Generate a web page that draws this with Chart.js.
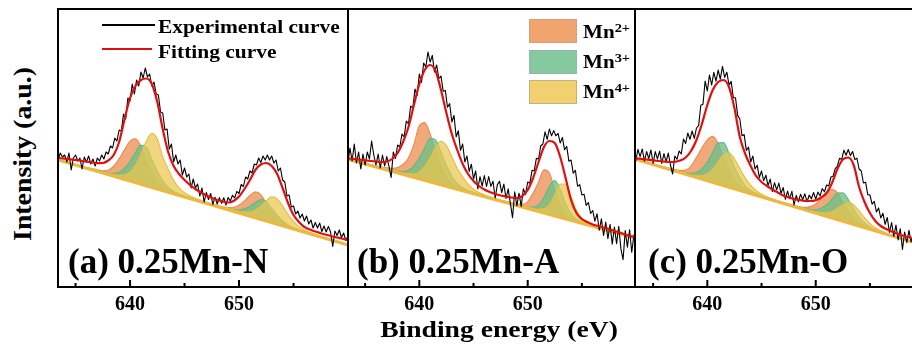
<!DOCTYPE html>
<html><head><meta charset="utf-8">
<script src="https://cdn.jsdelivr.net/npm/chart.js@4.4.1/dist/chart.umd.min.js"></script>
<style>
html,body{margin:0;padding:0;background:#fff;overflow:hidden;width:912px;height:352px;}
#wrap{position:relative;width:912px;height:352px;overflow:hidden;}
canvas{position:absolute;top:0;}
.t{position:absolute;font-family:"Liberation Serif","Times New Roman",serif;font-weight:bold;color:#000;white-space:nowrap;line-height:1;}
.sw{position:absolute;}
.box{position:absolute;width:46px;height:22px;}
</style></head><body><div id="wrap">
<canvas id="cA" width="294" height="352" style="left:56px"></canvas>
<canvas id="cB" width="291" height="352" style="left:346px"></canvas>
<canvas id="cC" width="279" height="352" style="left:633px"></canvas>

<div class="t" style="left:23px;top:154px;font-size:26px;transform:translate(-50%,-50%) rotate(-90deg) scaleX(1.07);">Intensity (a.u.)</div>
<div class="t" style="left:499px;top:317px;font-size:24px;transform:translateX(-50%) scaleX(1.15);">Binding energy (eV)</div>

<div class="sw" style="left:102px;top:24px;width:53px;height:2px;background:#000;"></div>
<div class="t" style="left:158px;top:17px;font-size:19.5px;transform-origin:0 50%;transform:scaleX(1.1);">Experimental curve</div>
<div class="sw" style="left:102px;top:48px;width:50px;height:2.4px;background:#e01010;"></div>
<div class="t" style="left:158px;top:42px;font-size:19.5px;transform-origin:0 50%;transform:scaleX(1.1);">Fitting curve</div>

<div class="box" style="left:529px;top:19px;background:#F2A46E;border:1px solid #d0a080;"></div>
<div class="box" style="left:529px;top:50px;background:#86C8A0;border:1px solid #98b8a6;"></div>
<div class="box" style="left:529px;top:80px;background:#F1D070;border:1px solid #c8b07a;"></div>
<div class="t" style="left:583px;top:18.6px;font-size:19px;line-height:1.4;transform-origin:0 50%;transform:scaleX(1.11);">Mn<span style="font-size:13px;vertical-align:6px;">2+</span></div>
<div class="t" style="left:583px;top:48.6px;font-size:19px;line-height:1.4;transform-origin:0 50%;transform:scaleX(1.11);">Mn<span style="font-size:13px;vertical-align:6px;">3+</span></div>
<div class="t" style="left:583px;top:78.6px;font-size:19px;line-height:1.4;transform-origin:0 50%;transform:scaleX(1.11);">Mn<span style="font-size:13px;vertical-align:6px;">4+</span></div>

<div class="t" style="left:68px;top:244px;font-size:35px;">(a) 0.25Mn-N</div>
<div class="t" style="left:357px;top:244px;font-size:35px;">(b) 0.25Mn-A</div>
<div class="t" style="left:648px;top:244px;font-size:35px;">(c) 0.25Mn-O</div>
</div>
<script>
// ---- axis ticks ----
const majorTicks = [640, 650];
const minorTicks = [635, 645, 655];

// ---- energy grids (eV) ----
const fitEnergy = [633,633.5,634,634.5,635,635.5,636,636.5,637,637.5,638,638.5,639,639.5,640,640.5,641,641.5,642,642.5,643,643.5,644,644.5,645,645.5,646,646.5,647,647.5,648,648.5,649,649.5,650,650.5,651,651.5,652,652.5,653,653.5,654,654.5,655,655.5,656,656.5,657,657.5,658,658.5,659,659.5,660];
const expStart = 633.2;
const expStep = 0.2;
const baselineEnergy = [633, 660];

// ---- panel (a) 0.25Mn-N ----
const baseA = [128.3, 42.0];
const fitA = [129.5,129,128.3,127.6,127,126.2,125.4,124.6,123.8,124,126.5,132,145,168,189,201,207,208.5,203,185,158,135,121,113,107,102,98,94.5,91.5,89,87,85.5,84.5,86,90.5,98,107,117,122.5,124,121,113,99,84,72,65,60,57.5,55.5,53.8,52.2,50.8,49.5,48.2,47];
const mn2A = [.4,.5,.5,.6,.7,.8,.9,1.2,1.6,2.3,4.4,10,19,30,40,44,37.5,25.5,14.8,7.6,3.8,2.2,1.5,1.1,.9,.8,.8,.8,.8,1,1.2,1.5,2.3,4.2,8,13.8,20.7,25.9,24.8,17.8,11,6.2,3.1,1.7,1.2,.9,.8,.7,.6,.5,.5,.4,.4,.4,.4];
const mn3A = [.3,.3,.4,.4,.5,.6,.7,.8,.9,1.2,1.7,2.8,5.6,11.2,19.6,30.2,39.2,38.4,28,17.6,9.8,4.8,2.5,1.6,1.1,.9,.8,.7,.7,.7,.8,1,1.3,1.8,3.1,5.9,10,15.3,19.8,19.4,14.2,9,5,2.5,1.3,.9,.7,.6,.5,.5,.4,.4,.4,.3,.3];
const mn4A = [.3,.3,.4,.4,.5,.5,.6,.7,.9,1.1,1.3,1.8,2.6,4.4,8.8,17.3,30,44.5,54,50,34,23,13.5,7.5,4.3,2.8,2,1.6,1.3,1.2,1.2,1.4,1.4,1.6,1.8,2.5,4.2,7.8,13.2,20,25.8,25.2,20,13,7.5,4,2.3,1.5,1.1,.9,.8,.7,.6,.5,.5];
const expA = [132,127,134,130,132,125,134,117,129,132,126,129,118,130,125,131,123,128,121,129,126,132,128,135,133,141,139,149,146,157,156,173,168,189,186,203,193,207,201,215,209,219,210,213,201,205,193,192,175,174,157,158,138,143,125,132,123,127,112,119,110,113,99,108,99,103,91,99,85,94.5,87.5,93.5,82.6,89.8,83,89.4,83.8,89.3,82,89.5,86,91.7,89,95.7,93.5,102.5,100.5,110,108,116,114,123,122,129,124.5,131,127,132,127,131,124,127,116,119,107,105,91,92,80,81,73,76,69,73,66,71,63,67,59,64.5,59,64,55.5,61,55,60.6,55,40.5,56,51.5,57,49.5,54,46.5,51];

// ---- panel (b) 0.25Mn-A ----
const baseB = [128.9, 48.7];
const fitB = [129.2,128.7,128,127.3,126.7,126,125.4,125,125.5,128,134,145,160,182,203,217,222,216,197,174,153,137,123,113,106,101,97.5,95,93,91.5,90.5,89.5,89,91,97,109,125,140,146,144,130,109,87,74,68,65,62.5,61,59.5,58,56,54.5,52.5,51,49.5];
const mn2B = [.5,.6,.7,.8,.9,1,1.2,1.5,2.1,3.2,5.5,10,18,33,53,57.7,47.6,31.9,18.3,9.3,4.6,2.7,1.9,1.4,1.1,.9,.8,.7,.7,.9,1.3,1.5,1.8,2.8,7,17,29.2,43.2,41.6,25.9,11.9,4.9,2.4,1.5,1.1,1,.9,.8,.7,.6,.6,.5,.5,.5,.4];
const mn3B = [.4,.4,.5,.5,.6,.7,.8,.9,1,1.3,1.8,2.9,5.7,11.6,20.8,32.5,43.5,43.5,32.5,20.8,11.6,5.7,2.9,1.8,1.3,1,.9,.8,.7,.7,.7,.8,1.2,1.4,1.8,3,6.7,15.4,28.2,35.3,28,15.2,6.5,2.8,1.5,1.1,.9,.8,.7,.6,.6,.5,.5,.5,.4];
const mn4B = [.3,.4,.4,.5,.5,.6,.7,.8,.9,1,1.2,1.4,2.1,3.5,7,13.8,24,35.8,43.5,40.6,31,21,14,8,4.5,2.8,2,1.5,1.2,1.1,1,1,1,1.2,1.4,1.6,2.2,4.2,9.8,20.9,33.5,35,23.7,11.5,4.7,2.1,1.3,1,.8,.7,.6,.6,.5,.5,.5];
const expB = [135,123,139,126,143,124,135,118,133,122,135,128,146,132,122,133,119,132,121,130.5,120.5,109.5,135,128.6,142,140,153,150,166,163,181,178.6,198,191.6,213,204.6,224,220,235,225,231.6,215,222,208.6,211,195.8,196.6,179.8,183.4,165,171.6,150.2,156.2,136.6,143,125,131,115.6,122.8,108,116,98,110.3,100.9,111.5,100.5,110.5,100.6,105.8,89,102.4,105.8,94.3,102.9,88.5,98.1,83.7,69.3,95.2,81,93.8,80.6,98.2,92.6,105,103.8,116.6,116.2,128.6,128,141,143,155.2,147.6,158,151.2,156.4,151.2,153.6,144,149.6,137.2,140.6,125.8,127,113.8,116.6,100.8,102.4,92,92.8,81.6,84.5,73.5,76.5,65.9,73.3,56.7,68.1,51.5,64.9,48.3,62.6,42.8,60,43.4,60.8,38.1,27.3,56.5,39.9,57.3,34.7,52.1,41.5];

// ---- panel (c) 0.25Mn-O ----
const baseC = [128.9, 41.4];
const fitC = [129.2,128.7,128,127.4,126.7,126,125.4,125,125.2,126.5,129.5,136,147,163,182,197,205,207,200,179,150,133,121,111,105,101,97.5,94.5,91.5,89.5,88,87,86.2,86,86.8,89.5,94,104,118,127.5,129.5,122,100,85,74,66,61,58,55.5,53.5,51.5,50,48.5,47,45.5];
const mn2C = [.4,.4,.5,.5,.6,.7,.9,1.2,1.6,2.3,4.2,10,20,31,41,46,40.3,28,16.3,8.4,4.2,2.3,1.6,1.2,.9,.8,.7,.7,.7,1.1,1.3,1.6,2.6,4.9,9.3,16,23.6,28.6,26.7,18.9,11.5,6.3,3.2,1.8,1.2,.9,.8,.7,.6,.5,.5,.4,.4,.4,.3];
const mn3C = [.3,.4,.4,.5,.5,.6,.7,.8,.9,1.2,1.7,2.6,5,10.2,18.7,30,41.2,43,33.6,22.1,12.6,6.3,3.2,2,1.3,1.1,1,.9,.9,.9,.9,1.2,1.5,2.1,3.4,6.5,11.5,18.8,26.5,28.4,23.4,15.8,9,4.6,2.4,1.4,1,.8,.7,.6,.5,.5,.4,.4,.4];
const mn4C = [.3,.3,.4,.4,.5,.5,.6,.6,.7,.8,.9,1.2,1.8,3.4,6.9,13.1,21.8,31.3,34.4,30,22,14,8.5,4.8,2.8,1.8,1.3,1.1,1,.9,.9,.9,.9,1.1,1.4,2,3.5,6.5,11.1,16.4,20.7,19.9,15.2,10.1,6,3.3,2,1.3,1,.8,.7,.6,.5,.5,.4];
const expC = [133,126,137.6,130.3,138,125.8,135.5,128.3,137,123.7,135.4,128.1,135.9,123.6,133.4,125.2,134,122,113,131,127.7,136,133,148,143.5,154,147.7,156,148.6,159,161.4,181.8,182.8,206,196,212,202,214.6,205.8,217,207.8,220.6,209.6,214.8,202,205.6,189.2,189.2,171.6,168,151.2,152.4,136.6,139.8,125,131,118,121.8,109.4,116,106.4,111.8,101.3,107.9,95.5,104.3,97.1,103.9,93.7,99.5,87.7,95.9,88.2,95.6,82,91.6,85.2,92.8,87.5,93.2,85.1,92,88.2,94.5,87.8,94.9,91,98.4,95.2,102,101,110,110.8,118.4,121,128.8,127.6,136.9,131.7,137.5,131.5,135.5,127.6,128.8,118,116,104,104.8,92.4,92,82.8,85.6,75,79,69,73.8,62.6,69.5,54.5,64.5,50.7,61.9,47.1,58.3,37.5,54.9,44.3,56.7,45.1,53.5,44.9,53.3,44.7,50.1,44.5];

const framePlugin = {
  id: 'frame',
  afterDraw(chart, args, opts) {
    const ctx = chart.ctx, a = chart.chartArea, x = chart.scales.x;
    ctx.save();
    ctx.strokeStyle = '#000';
    ctx.lineWidth = 2;
    ctx.beginPath();
    majorTicks.forEach(v => { const px = x.getPixelForValue(v); ctx.moveTo(px, a.bottom); ctx.lineTo(px, a.bottom - 7); });
    minorTicks.forEach(v => { const px = x.getPixelForValue(v); ctx.moveTo(px, a.bottom); ctx.lineTo(px, a.bottom - 4); });
    ctx.stroke();
    ctx.beginPath();
    ctx.lineCap = 'square';
    ctx.moveTo(a.left, a.top); ctx.lineTo(a.right, a.top);
    ctx.moveTo(a.left, a.bottom); ctx.lineTo(a.right, a.bottom);
    ctx.moveTo(a.left, a.top); ctx.lineTo(a.left, a.bottom);
    if (opts.right) { ctx.moveTo(a.right, a.top); ctx.lineTo(a.right, a.bottom); }
    ctx.stroke();
    ctx.restore();
  }
};

function buildDatasets(p) {
  const b = p.base;
  const baseAt = E => b[0] + (b[1] - b[0]) * (E - baselineEnergy[0]) / (baselineEnergy[1] - baselineEnergy[0]);
  const comp = h => fitEnergy.map((E, i) => ({x: E, y: baseAt(E) + h[i]}));
  return [
    {label: 'Fitting curve', data: fitEnergy.map((E, i) => ({x: E, y: p.fit[i]})),
      borderColor: '#e01010', borderWidth: 2.2, order: 1, cubicInterpolationMode: 'monotone', fill: false},
    {label: 'Experimental curve', data: p.exp.map((v, i) => ({x: expStart + i * expStep, y: v})),
      borderColor: '#000', borderWidth: 1.1, order: 2, tension: 0, fill: false},
    {label: 'Background', data: baselineEnergy.map((E, i) => ({x: E, y: b[i]})),
      borderColor: '#EDB83E', borderWidth: 3, order: 3, fill: false},
    {label: 'Mn4+', data: comp(p.mn4), borderColor: 'rgb(232,192,70)', backgroundColor: 'rgba(234,198,78,0.72)',
      borderWidth: 1.2, order: 4, fill: 2, cubicInterpolationMode: 'monotone'},
    {label: 'Mn3+', data: comp(p.mn3), borderColor: 'rgb(100,186,128)', backgroundColor: 'rgba(108,192,138,0.78)',
      borderWidth: 1.2, order: 5, fill: 2, cubicInterpolationMode: 'monotone'},
    {label: 'Mn2+', data: comp(p.mn2), borderColor: 'rgb(236,142,84)', backgroundColor: 'rgba(238,150,94,0.82)',
      borderWidth: 1.2, order: 6, fill: 2, cubicInterpolationMode: 'monotone'}
  ];
}

const panels = [
  {id: 'cA', min: 633.39, max: 660.0, left: 2, right: 2, frameRight: true, exp: expA, fit: fitA, mn2: mn2A, mn3: mn3A, mn4: mn4A, base: baseA},
  {id: 'cB', min: 633.42, max: 659.9, left: 2, right: 2, frameRight: true, exp: expB, fit: fitB, mn2: mn2B, mn3: mn3B, mn4: mn4B, base: baseB},
  {id: 'cC', min: 633.33, max: 658.88, left: 2, right: 0, frameRight: false, exp: expC, fit: fitC, mn2: mn2C, mn3: mn3C, mn4: mn4C, base: baseC}
];

panels.forEach(p => {
  new Chart(document.getElementById(p.id), {
    type: 'line',
    data: {datasets: buildDatasets(p)},
    options: {
      responsive: false, animation: false, events: [],
      layout: {padding: {top: 9, bottom: 0, left: p.left, right: p.right}},
      elements: {point: {radius: 0}, line: {borderJoinStyle: 'round'}},
      plugins: {legend: {display: false}, tooltip: {enabled: false}, frame: {right: p.frameRight}},
      scales: {
        x: {
          type: 'linear', min: p.min, max: p.max,
          grid: {display: false, drawTicks: false}, border: {display: false},
          afterBuildTicks: s => { s.ticks = majorTicks.map(v => ({value: v})); },
          afterFit: s => { s.height = 65; },
          ticks: {padding: 6, color: '#000', maxRotation: 0, autoSkip: false,
            font: {family: '"Liberation Serif", "Times New Roman", serif', weight: 'bold', size: 20},
            callback: v => String(v)}
        },
        y: {type: 'linear', display: false, min: 0, max: 278}
      }
    },
    plugins: [framePlugin]
  });
});
</script>
</body></html>
